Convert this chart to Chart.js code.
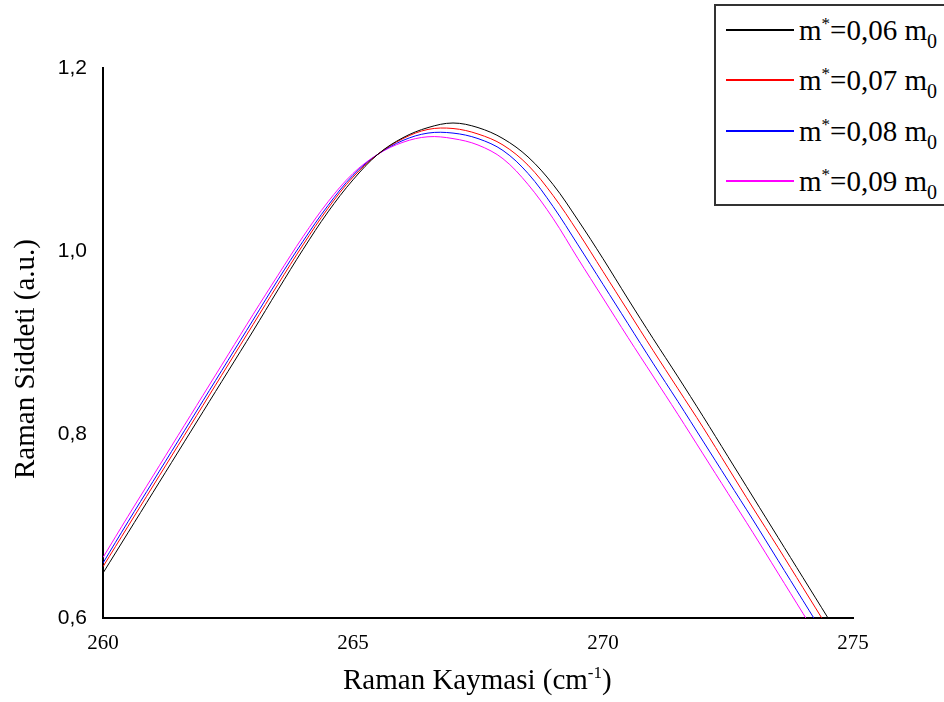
<!DOCTYPE html>
<html>
<head>
<meta charset="utf-8">
<script src="https://cdn.jsdelivr.net/npm/chart.js@4/dist/chart.umd.min.js"></script>
<style>
  html, body { margin: 0; padding: 0; background: #fff; }
  #wrap { position: relative; width: 944px; height: 702px; overflow: hidden; }
  #myChart { position: absolute; left: 0; top: 0; }
  .serif { font-family: "Liberation Serif", "Times New Roman", serif; color: #000; }
  #xTitle { position: absolute; left: 343px; top: 664px; font-size: 29px; line-height: 30px; white-space: nowrap; }
  #yTitle { position: absolute; left: 24px; top: 359px; font-size: 29px; line-height: 30px; white-space: nowrap;
            transform: translate(-50%, -50%) rotate(-90deg); }
  #legend { position: absolute; left: 714px; top: 4px; width: 260px; height: 198px;
            border: 2px solid #333; background: #fff; }
  .row { position: absolute; left: 10px; height: 30px; }
  .row .swatch { position: absolute; left: 0; top: 0; width: 68px; height: 2px; }
  .row .lbl { position: absolute; left: 73px; top: -14px; font-size: 29px; line-height: 30px; white-space: nowrap; }
  sup { font-size: 17px; vertical-align: 11px; line-height: 0; }
  sub { font-size: 20px; vertical-align: -8px; line-height: 0; }
</style>
</head>
<body>
<div id="wrap">
  <canvas id="myChart" width="944" height="702"></canvas>
  <div id="yTitle" class="serif">Raman Siddeti (a.u.)</div>
  <div id="xTitle" class="serif">Raman Kaymasi (cm<sup>-1</sup>)</div>
  <div id="legend"></div>
</div>
<script>
// Raman shift (cm-1)
const shift = [260, 260.5, 261, 261.5, 262, 262.5, 263, 263.5, 264, 264.5,
               265, 265.5, 266, 266.5, 267, 267.5, 268, 268.5, 269, 269.5,
               270, 270.5, 271, 271.5, 272, 272.5, 273, 273.5, 274, 274.5];

const m006 = [0.649, 0.693, 0.737, 0.781, 0.825, 0.869, 0.913, 0.958, 1.002, 1.043,
              1.078, 1.106, 1.124, 1.135, 1.140, 1.135, 1.123, 1.103, 1.073, 1.034,
              0.992, 0.948, 0.905, 0.863, 0.820, 0.776, 0.732, 0.688, 0.644, 0.600];
const m007 = [0.656, 0.700, 0.744, 0.788, 0.832, 0.876, 0.920, 0.964, 1.007, 1.047,
              1.081, 1.106, 1.123, 1.133, 1.134, 1.128, 1.116, 1.094, 1.061, 1.021,
              0.978, 0.935, 0.892, 0.850, 0.808, 0.764, 0.720, 0.677, 0.633, 0.589];
const m008 = [0.660, 0.705, 0.749, 0.793, 0.837, 0.881, 0.925, 0.969, 1.011, 1.050,
              1.083, 1.106, 1.121, 1.129, 1.129, 1.123, 1.110, 1.085, 1.049, 1.007,
              0.964, 0.921, 0.878, 0.836, 0.793, 0.750, 0.707, 0.663, 0.619, 0.575];
const m009 = [0.666, 0.711, 0.755, 0.799, 0.843, 0.887, 0.931, 0.974, 1.016, 1.054,
              1.085, 1.106, 1.119, 1.125, 1.123, 1.116, 1.101, 1.073, 1.036, 0.992,
              0.949, 0.906, 0.864, 0.822, 0.779, 0.736, 0.693, 0.649, 0.605, 0.561];

const masses = ["0,06", "0,07", "0,08", "0,09"];
const colors = ["#000000", "#ff0000", "#0000ff", "#ff00ff"];
const series = [m006, m007, m008, m009];

const xTicks = [260, 265, 270, 275];
const yTicks = [0.6, 0.8, 1.0, 1.2];

function toPoints(ys) {
  return ys.map((y, i) => ({ x: shift[i], y: y }));
}

let datasets = series.map((ys, i) => ({
  label: "m*=" + masses[i] + " m0",
  data: toPoints(ys),
  borderColor: colors[i],
  borderWidth: 1,
  pointRadius: 0,
  tension: 0.35,
  fill: false,
}));

let myChart = new Chart(document.getElementById('myChart'), {
  type: 'line',
  data: { datasets: datasets },
  options: {
    responsive: false,
    animation: false,
    devicePixelRatio: 1,
    layout: { padding: { top: 68, right: 91, left: 0, bottom: 0 } },
    plugins: { legend: { display: false }, tooltip: { enabled: false } },
    scales: {
      x: {
        type: 'linear',
        min: 260,
        max: 275,
        afterBuildTicks: s => { s.ticks = xTicks.map(v => ({ value: v })); },
        afterFit: s => { s.height = 84; },
        grid: { display: false },
        border: { display: true, color: '#000', width: 2 },
        ticks: {
          color: '#000',
          padding: 5,
          maxRotation: 0,
          font: { family: 'Liberation Serif', size: 21 },
        },
      },
      y: {
        min: 0.6,
        max: 1.2,
        afterBuildTicks: s => { s.ticks = yTicks.map(v => ({ value: v })); },
        afterFit: s => { s.width = 103; },
        grid: { display: false },
        border: { display: true, color: '#000', width: 2 },
        ticks: {
          color: '#000',
          padding: 8,
          font: { family: 'Liberation Sans', size: 21 },
          callback: v => v.toFixed(1).replace('.', ','),
        },
      },
    },
  },
});

// legend box with superscript / subscript labels
const legend = document.getElementById('legend');
masses.forEach((m, i) => {
  let row = document.createElement('div');
  row.className = 'row';
  row.style.top = Math.round(23 + i * 50.3) + 'px';
  row.innerHTML = '<div class="swatch" style="background:' + colors[i] + '"></div>' +
    '<div class="lbl serif">m<sup>*</sup>=' + m + ' m<sub>0</sub></div>';
  legend.appendChild(row);
});
</script>
</body>
</html>
